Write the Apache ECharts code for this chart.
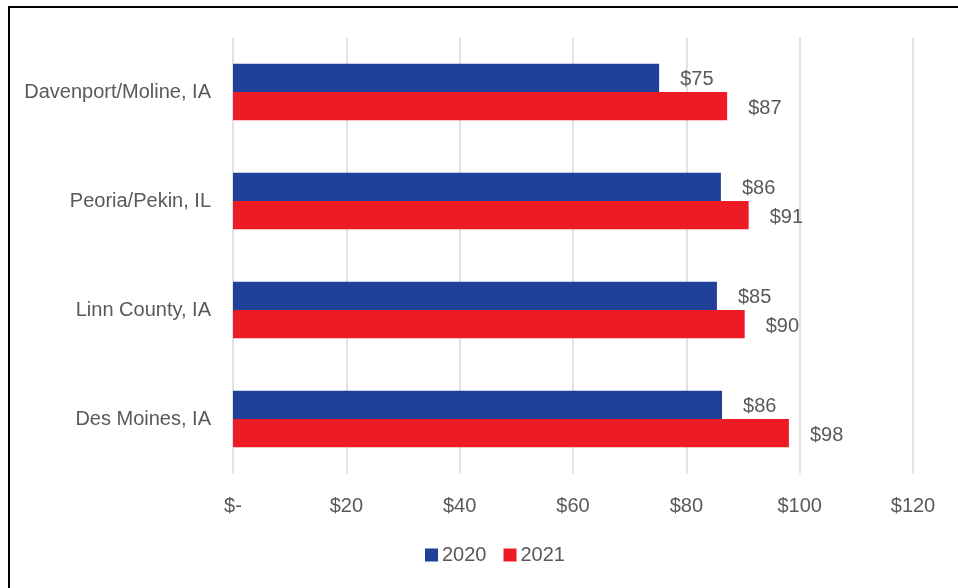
<!DOCTYPE html>
<html><head><meta charset="utf-8">
<script src="https://cdn.jsdelivr.net/npm/echarts@6/dist/echarts.min.js"></script>
<style>html,body{margin:0;padding:0;background:#fff;}#c{width:958px;height:588px;}</style>
</head><body><div id="c"></div>
<script>
const categories = ["Davenport/Moline, IA", "Peoria/Pekin, IL", "Linn County, IA", "Des Moines, IA"];
const values2020 = [75.2, 86.1, 85.4, 86.3];
const values2021 = [87.2, 91.0, 90.3, 98.1];
const labels2020 = ["$75", "$86", "$85", "$86"];
const labels2021 = ["$87", "$91", "$90", "$98"];
const seriesNames = ["2020", "2021"];
const FONT = '"Liberation Sans Narrow", "Arial Narrow", "Liberation Sans", sans-serif';
const chart = echarts.init(document.getElementById('c'), null, {renderer: 'canvas'});
function mk(name, vals, labs, color) {
  return {
    name: name, type: 'bar', data: vals, barGap: '0%', barCategoryGap: '48%',
    itemStyle: {color: color},
    label: {show: true, position: 'right', distance: 21, offset: [0, 2], color: '#595959', fontSize: 20, fontFamily: FONT,
      formatter: p => labs[p.dataIndex]},
    emphasis: {disabled: true}
  };
}
chart.setOption({
  animation: false,
  backgroundColor: '#fff',
  graphic: [{type: 'rect', shape: {x: 9, y: 7, width: 1200, height: 1200}, style: {fill: 'none', stroke: '#000', lineWidth: 2}, silent: true}],
  grid: {left: 233, right: 45, top: 37.5, bottom: 114.5, containLabel: false},
  legend: {left: 425, top: 545, padding: 0, itemWidth: 13, itemHeight: 13, itemGap: 17,
    icon: 'rect', textStyle: {color: '#595959', fontSize: 20, fontFamily: FONT, padding: [0, 0, 0, -1]},
    data: seriesNames},
  xAxis: {type: 'value', min: 0, max: 120, interval: 20,
    axisLine: {show: false}, axisTick: {show: false},
    splitLine: {show: true, lineStyle: {color: '#d9d9d9', width: 1.5}},
    axisLabel: {margin: 23, color: '#595959', fontSize: 20, fontFamily: FONT,
      formatter: v => v === 0 ? '$-' : '$' + v}},
  yAxis: {type: 'category', data: categories, inverse: true,
    axisLine: {show: false}, axisTick: {show: false},
    axisLabel: {margin: 22, color: '#595959', fontSize: 20, fontFamily: FONT}},
  series: [mk(seriesNames[0], values2020, labels2020, '#21409A'), mk(seriesNames[1], values2021, labels2021, '#ED1C24')]
});
</script></body></html>
